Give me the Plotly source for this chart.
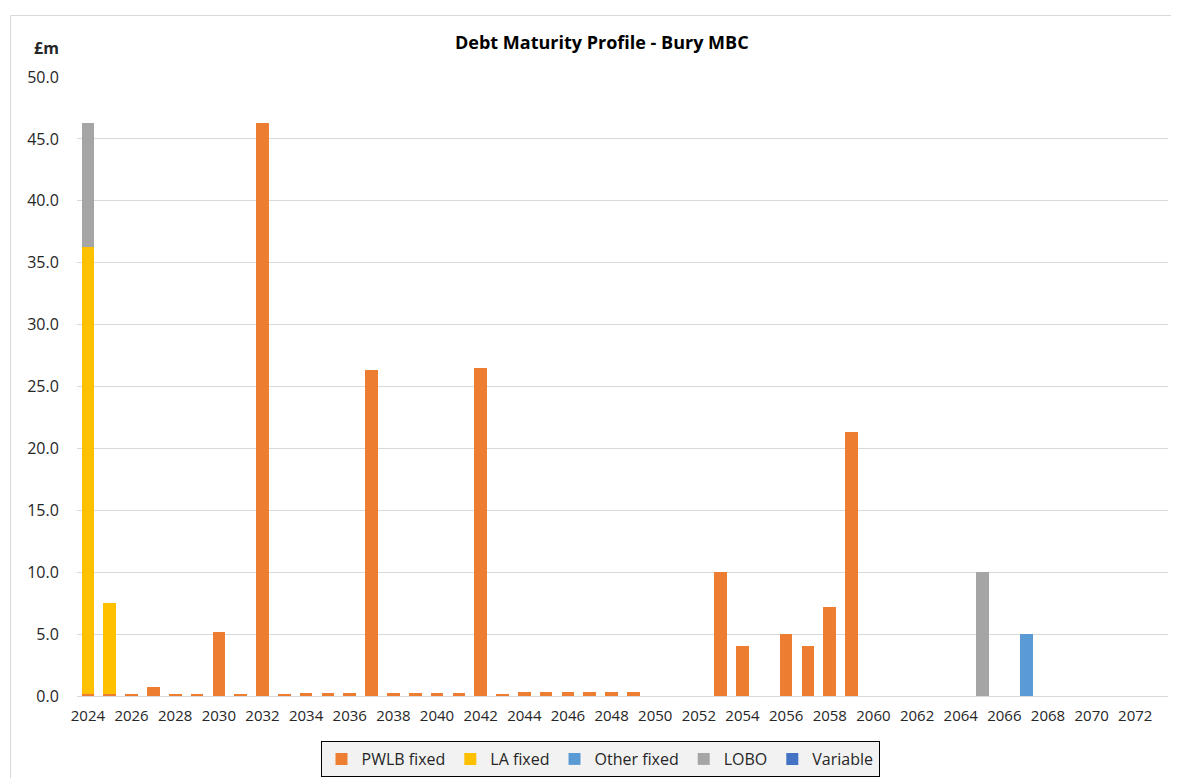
import plotly.graph_objects as go

years = list(range(2024, 2074))

pwlb_fixed = [0.2, 0.2, 0.2, 0.7, 0.2, 0.2, 5.2, 0.2, 46.3, 0.2,
              0.25, 0.25, 0.25, 26.3, 0.25, 0.25, 0.25, 0.25, 26.5, 0.2,
              0.3, 0.3, 0.3, 0.3, 0.3, 0.3, 0, 0, 0, 10.0,
              4.0, 0, 5.0, 4.0, 7.2, 21.3, 0, 0, 0, 0,
              0, 0, 0, 0, 0, 0, 0, 0, 0, 0]
la_fixed = [36.1, 7.3] + [0] * 48
other_fixed = [0] * 43 + [5.0] + [0] * 6
lobo = [10.0] + [0] * 40 + [10.0] + [0] * 8
variable = [0] * 50

series_names = ["PWLB fixed", "LA fixed", "Other fixed", "LOBO", "Variable"]
series_values = [pwlb_fixed, la_fixed, other_fixed, lobo, variable]
colors = ["#ED7D31", "#FFC000", "#5B9BD5", "#A5A5A5", "#4472C4"]

font_family = "Open Sans, Noto Sans, Liberation Sans, sans-serif"

fig = go.Figure()
for name, vals, c in zip(series_names, series_values, colors):
    fig.add_trace(go.Bar(x=years, y=vals, name=name,
                         marker=dict(color=c, line=dict(width=0))))

# page body adds an 8px offset; work in screenshot coordinates
OFF = 8
W, H = 1179 - OFF, 778 - OFF
L, R, T, B = 77 - OFF, 1168 - OFF, 77 - OFF, 696 - OFF
pw, ph = R - L, B - T

def px(x):
    return (x - OFF - L) / pw

def py(y):
    return (B - (y - OFF)) / ph

fig.update_layout(
    width=W, height=H,
    margin=dict(l=L, r=W - R, t=T, b=H - B, autoexpand=False),
    barmode="stack", bargap=0.42,
    plot_bgcolor="white", paper_bgcolor="white",
    font=dict(family=font_family, size=14, color="#404040"),
    showlegend=True,
    legend=dict(orientation="h", xref="container", yref="container",
                x=(600 - OFF) / W, xanchor="center",
                y=1 - (741 - OFF) / H, yanchor="top",
                bgcolor="#F2F2F2", bordercolor="#000000", borderwidth=1,
                font=dict(size=16, color="#262626"), traceorder="normal",
                itemwidth=30, tracegroupgap=0),
    xaxis=dict(range=[2023.5, 2073.5], tick0=2024, dtick=2, tickmode="linear",
               showgrid=False, showline=True, linecolor="#D9D9D9", linewidth=1,
               ticks="outside", ticklen=6, tickcolor="rgba(0,0,0,0)",
               tickfont=dict(size=15, color="#262626"), zeroline=False),
    yaxis=dict(range=[0, 50], dtick=5, tickformat=".1f",
               showgrid=True, gridcolor="#D9D9D9", gridwidth=1,
               zeroline=False, showline=False,
               ticks="outside", ticklen=14, tickcolor="rgba(0,0,0,0)",
               tickfont=dict(size=16, color="#262626")),
    annotations=[
        dict(text="<b>Debt Maturity Profile - Bury MBC</b>", xref="paper", yref="paper",
             x=px(602), y=py(42), xanchor="center", yanchor="middle",
             showarrow=False, font=dict(size=18, color="#000000")),
        dict(text="<b>£m</b>", xref="paper", yref="paper",
             x=px(61), y=py(48), xanchor="right", yanchor="middle",
             showarrow=False, font=dict(size=16, color="#262626")),
    ],
    shapes=[
        dict(type="rect", xref="paper", yref="paper",
             x0=px(10.5), x1=px(1200), y0=py(800), y1=py(15.5),
             line=dict(color="#D9D9D9", width=1), fillcolor="rgba(0,0,0,0)",
             layer="below"),
    ],
)

fig.write_html("out.html")
